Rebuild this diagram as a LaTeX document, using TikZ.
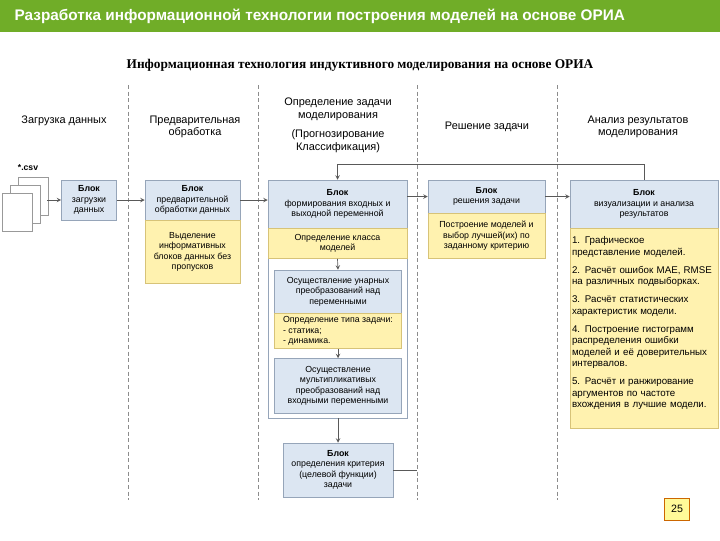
\documentclass[tikz,border=0pt]{standalone}
\usepackage{fontspec}
\setmainfont{Liberation Sans}
\newfontfamily\serifb{Liberation Serif}
\definecolor{bfill}{RGB}{220,230,242}
\definecolor{bdraw}{RGB}{150,165,185}
\definecolor{yfill}{RGB}{255,242,175}
\definecolor{ydraw}{RGB}{215,195,120}
\definecolor{hgreen}{RGB}{112,173,40}
\begin{document}
\begin{tikzpicture}[x=0.75pt,y=-0.75pt,
  blue/.style={draw=bdraw,fill=bfill,inner sep=1pt,align=center,font=\fontsize{6.6}{7.8}\selectfont},
  yel/.style={draw=ydraw,fill=yfill,inner sep=1pt,align=center,font=\fontsize{6.6}{7.8}\selectfont},
  hd/.style={align=center,font=\fontsize{8.2}{9.5}\selectfont},
  sep/.style={densely dashed,black!45,line width=0.4pt},
  con/.style={->,black!65,line width=0.5pt,>=stealth}]
\useasboundingbox (0,0) rectangle (720,540);
\fill[hgreen] (0,0) rectangle (720,32);
\node[anchor=west,text=white,font=\bfseries\fontsize{11.5}{13}\selectfont] (title) at (10,16) {Разработка информационной технологии построения моделей на основе ОРИА};
\node[font=\serifb\bfseries\fontsize{10}{12}\selectfont] (sub) at (360,65) {Информационная технология индуктивного моделирования на основе ОРИА};
\foreach \x in {128,258,417,557} \draw[sep] (\x,85) -- (\x,500);
\node[hd] (h1) at (64,121) {Загрузка данных};
\node[hd] (h2) at (195,127) {Предварительная\\обработка};
\node[hd] (h3) at (338,125) {Определение задачи\\моделирования\\[5pt](Прогнозирование\\Классификация)};
\node[hd] (h4) at (487,127) {Решение задачи};
\node[hd] (h5) at (638,127) {Анализ результатов\\моделирования};
% files
\node[font=\bfseries\fontsize{6.5}{8}\selectfont] (csv) at (28,168) {*.csv};
\draw[black!40,fill=white] (18,177) rectangle (48,215);
\draw[black!40,fill=white] (10,185) rectangle (40,223);
\node[draw=black!40,fill=white,minimum width=30*0.75pt,minimum height=38*0.75pt,inner sep=0] (f) at (17,212) {};
\node[blue,minimum width=55*0.75pt,minimum height=40*0.75pt] (load) at (89,200) {\textbf{Блок}\\загрузки\\данных};
\node[blue,minimum width=95*0.75pt,minimum height=40*0.75pt] (pre) at (192.5,200) {\textbf{Блок}\\предварительной\\обработки данных};
\node[yel,minimum width=95*0.75pt,minimum height=63*0.75pt,anchor=north] (prey) at (pre.south) {Выделение\\информативных\\блоков данных без\\пропусков};
\draw[bdraw,fill=white] (268,228) rectangle (407,418);
\node[blue,minimum width=139*0.75pt,minimum height=48*0.75pt] (form) at (337.5,204) {\textbf{Блок}\\формирования входных и\\выходной переменной};
\node[yel,minimum width=139*0.75pt,minimum height=30*0.75pt,anchor=north] (cls) at (form.south) {Определение класса\\моделей};
\node[blue,minimum width=127*0.75pt,minimum height=43*0.75pt] (un) at (338,291.5) {Осуществление унарных\\преобразований над\\переменными};
\node[yel,minimum width=127*0.75pt,minimum height=35*0.75pt,anchor=north,align=left] (typ) at (un.south) {Определение типа задачи:\\ - статика;\\ - динамика.\hspace{40pt}};
\node[blue,minimum width=127*0.75pt,minimum height=55*0.75pt] (mul) at (338,386) {Осуществление\\мультипликативых\\преобразований над\\входными переменными};
\coordinate (ob) at (338,418);
\node[blue,minimum width=110*0.75pt,minimum height=54*0.75pt] (crit) at (338,470) {\textbf{Блок}\\определения критерия\\(целевой функции)\\задачи};
\coordinate (ce) at (417,470);
\node[blue,minimum width=117*0.75pt,minimum height=33*0.75pt] (sol) at (486.5,196.5) {\textbf{Блок}\\решения задачи};
\node[yel,minimum width=117*0.75pt,minimum height=45*0.75pt,anchor=north] (soly) at (sol.south) {Построение моделей и\\выбор лучшей(их) по\\заданному критерию};
\node[blue,minimum width=148*0.75pt,minimum height=48*0.75pt] (vis) at (644,204) {\textbf{Блок}\\визуализации и анализа\\результатов};
\node[yel,minimum width=148*0.75pt,minimum height=200*0.75pt,anchor=north] (visy) at (vis.south) {};
\node[anchor=north west,align=left,text width=144*0.75pt,inner sep=0pt,font=\fontsize{7.3}{8.6}\selectfont] (vist) at ([xshift=1.5pt,yshift=-6pt]visy.north west) {1. Графическое представление моделей.\\[5pt]2. Расчёт ошибок MAE, RMSE на различных подвыборках.\\[5pt]3. Расчёт статистических характеристик модели.\\[5pt]4. Построение гистограмм распределения ошибки моделей и её доверительных интервалов.\\[5pt]5. Расчёт и ранжирование аргументов по частоте вхождения в лучшие модели.};
\node[draw=orange!80!black,fill=yellow!40,minimum width=25*0.75pt,minimum height=22*0.75pt,font=\fontsize{8}{9}\selectfont] (pg) at (677,509) {25};
% connectors
\draw[con] (47,200) -- (load.west);
\draw[con] (load.east) -- (pre.west);
\draw[con] (pre.east) -- (pre.east -| form.west);
\draw[con] (form.east |- sol.west) -- (sol.west);
\draw[con] (sol.east) -- (sol.east -| vis.west);
\draw[con] (vis.north) -- ++(0,-15) -| (form.north);
\draw[con] (cls.south) -- (un.north);
\draw[con] (typ.south) -- (mul.north);
\draw[con] (ob) -- (crit.north);
\draw[black!65,line width=0.5pt] (crit.east) -- (ce);
\end{tikzpicture}
\end{document}
